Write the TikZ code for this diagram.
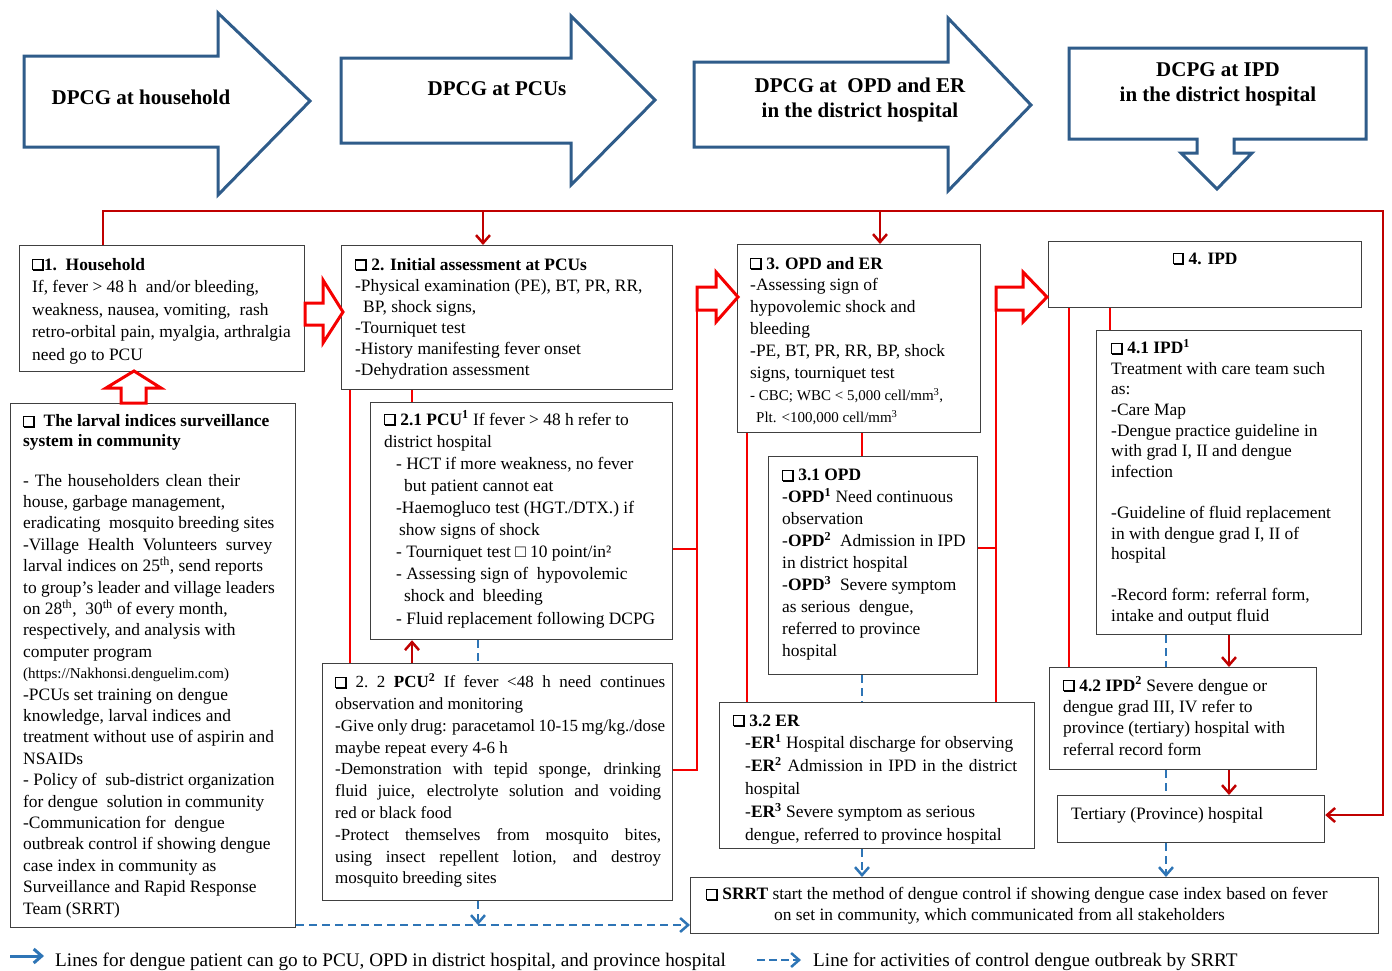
\documentclass[tikz,border=0pt]{standalone}
\usepackage{fontspec}
\setmainfont{Liberation Serif}
\usetikzlibrary{arrows.meta}
\definecolor{bluearr}{HTML}{2F5C8A}
\definecolor{bdash}{HTML}{2E75B6}
\definecolor{rbright}{HTML}{F50000}
\definecolor{rdark}{HTML}{C00000}
\definecolor{boxc}{HTML}{404040}
\newcommand{\cbx}{\mbox{\rule{1.1pt}{11pt}\rlap{\raisebox{9.9pt}{\rule{8.6pt}{1.1pt}}}\rule[-1pt]{8.6pt}{2.1pt}\rule[-1pt]{2.1pt}{12pt}}}
\newcommand{\jst}[2]{\makebox[#1pt][s]{#2}}
\begin{document}
\begin{tikzpicture}[x=1pt,y=-1pt,
  bx/.style={draw=boxc,line width=1.2pt,anchor=north west,inner sep=0pt,fill=white},
  tx/.style={anchor=north west,inner sep=0pt,align=left,font={\fontsize{17.4}{#1}\selectfont}},
  ttl/.style={align=center,inner sep=0pt,font={\fontsize{21}{25}\selectfont\bfseries}},
  bigarrow/.style={draw=bluearr,line width=3pt,line join=miter,fill=white},
  hollow/.style={draw=rbright,line width=3pt,line join=miter,fill=white},
  rline/.style={draw=rbright,line width=2.5pt},
  rtop/.style={draw=rdark,line width=2.5pt},
  rarrow/.style={draw=rdark,line width=2.5pt,-{Straight Barb[length=8pt,width=14pt]}},
  bdashed/.style={draw=bdash,line width=2.5pt,dash pattern=on 8pt off 5pt},
  barrow/.style={bdashed,-{Straight Barb[length=8pt,width=14pt]}},
]
\fill[white] (0,0) rectangle (1392,970);
\useasboundingbox (0,0) rectangle (1392,970);

% ---------- top block arrows ----------
\draw[bigarrow] (24,56) -- (218,56) -- (218,13) -- (310,101) -- (218,195) -- (218,147) -- (24,147) -- cycle;
\draw[bigarrow] (341,58) -- (571,58) -- (571,16) -- (655,100) -- (571,185) -- (571,143) -- (341,143) -- cycle;
\draw[bigarrow] (694,62) -- (948,62) -- (948,18) -- (1031,105) -- (948,191) -- (948,147) -- (694,147) -- cycle;
\draw[bigarrow] (1069,48) -- (1366,48) -- (1366,139) -- (1234,139) -- (1234,153) -- (1252,153) -- (1217,189) -- (1181,153) -- (1197,153) -- (1197,139) -- (1069,139) -- cycle;
\node[ttl] (a1t) at (141,97) {DPCG at household};
\node[ttl] (a2t) at (497,89) {DPCG at PCUs};
\node[ttl] (a3t) at (860,100) {DPCG at\ \ OPD and ER\\in the district hospital};
\node[ttl] (a4t) at (1218,84) {DCPG at IPD\\in the district hospital};

% ---------- boxes ----------
\node[bx,minimum width=285pt,minimum height=126pt] (hh) at (19,245) {};
\node[bx,minimum width=331pt,minimum height=144pt] (pcu) at (341,245) {};
\node[bx,minimum width=243pt,minimum height=188pt] (opd) at (737,244) {};
\node[bx,minimum width=313pt,minimum height=66pt] (ipd) at (1048,241) {};
\node[bx,minimum width=265pt,minimum height=304pt] (ipd1) at (1096,330) {};
\node[bx,minimum width=267pt,minimum height=102pt] (ipd2) at (1049,667) {};
\node[bx,minimum width=267pt,minimum height=47pt] (ter) at (1057,795) {};
\node[bx,minimum width=209pt,minimum height=218pt] (opd1) at (768,456) {};
\node[bx,minimum width=315pt,minimum height=146pt] (er) at (719,702) {};
\node[bx,minimum width=302pt,minimum height=237pt] (p21) at (370,402) {};
\node[bx,minimum width=350pt,minimum height=237pt] (p22) at (322,663) {};
\node[bx,minimum width=285pt,minimum height=524pt] (lar) at (10,403) {};
\node[bx,minimum width=688pt,minimum height=56pt] (srrt) at (690,877) {};

% ---------- texts ----------
\node[tx=22.6] (hht) at (32,254) {\strut\textbf{\cbx1.\ \ Household}\\
If, fever > 48 h\ \ and/or bleeding,\\
weakness, nausea, vomiting,\ \ rash\\
retro-orbital pain, myalgia, arthralgia\\
need go to PCU};

\node[tx=21] (pcut) at (355,255.5) {\strut\textbf{\cbx\ 2. Initial assessment at PCUs}\\
-Physical examination (PE), BT, PR, RR,\\
\hspace*{8pt}BP, shock signs,\\
-Tourniquet test\\
-History manifesting fever onset\\
-Dehydration assessment};

\node[tx=21.9] (opdt) at (750,253.5) {\strut\textbf{\cbx\ 3. OPD and ER}\\
-Assessing sign of\\
hypovolemic shock and\\
bleeding\\
-PE, BT, PR, RR, BP, shock\\
signs, tourniquet test\\
{\fontsize{15}{21.6}\selectfont - CBC; WBC < 5,000 cell/mm\textsuperscript{3},}\\
{\fontsize{15}{21.6}\selectfont\hspace*{6pt}Plt. <100,000 cell/mm\textsuperscript{3}}};

\node[font={\fontsize{17.4}{20}\selectfont\bfseries}] (ipdt) at (1205,259) {\cbx\ 4. IPD};

\node[tx=20.6] (ipd1t) at (1111,339) {\strut\textbf{\cbx\ 4.1 IPD\textsuperscript{1}}\\
Treatment with care team such\\
as:\\
-Care Map\\
-Dengue practice guideline in\\
with grad I, II and dengue\\
infection\\
\mbox{}\\
-Guideline of fluid replacement\\
in with dengue grad I, II of\\
hospital\\
\mbox{}\\
-Record form: referral form,\\
intake and output fluid};

\node[tx=21.3] (ipd2t) at (1063,676) {\strut\textbf{\cbx\ 4.2 IPD\textsuperscript{2}} Severe dengue or\\
dengue grad III, IV refer to\\
province (tertiary) hospital with\\
referral record form};

\node[anchor=base west,inner sep=0pt,font={\fontsize{17.4}{20}\selectfont}] (tert) at (1071,819) {Tertiary (Province) hospital};

\node[tx=22] (opd1t) at (782,465) {\strut\textbf{\cbx\ 3.1 OPD}\\
-\textbf{OPD\textsuperscript{1}} Need continuous\\
observation\\
-\textbf{OPD\textsuperscript{2}}\ \ Admission in IPD\\
in district hospital\\
-\textbf{OPD\textsuperscript{3}}\ \ Severe symptom\\
as serious\ \ dengue,\\
referred to province\\
hospital};

\node[tx=22.8] (ert) at (733,710) {\strut\textbf{\cbx\ 3.2 ER}\\
\hspace*{12pt}-\textbf{ER\textsuperscript{1}} Hospital discharge for observing\\
\hspace*{12pt}\jst{272}{-\textbf{ER\textsuperscript{2}} Admission in IPD in the district}\\
\hspace*{12pt}hospital\\
\hspace*{12pt}-\textbf{ER\textsuperscript{3}} Severe symptom as serious\\
\hspace*{12pt}dengue, referred to province hospital};

\node[tx=22.1] (p21t) at (384,409.5) {\strut\textbf{\cbx\ 2.1 PCU\textsuperscript{1}} If fever > 48 h refer to\\
district hospital\\
\hspace*{12pt}- HCT if more weakness, no fever\\
\hspace*{20pt}but patient cannot eat\\
\hspace*{12pt}-Haemogluco test (HGT./DTX.) if\\
\hspace*{15pt}show signs of shock\\
\hspace*{12pt}- Tourniquet test □ 10 point/in²\\
\hspace*{12pt}- Assessing sign of\ \ hypovolemic\\
\hspace*{20pt}shock and\ \ bleeding\\
\hspace*{12pt}- Fluid replacement following DCPG};

\node[tx=21.8,font={\fontsize{17}{21.8}\selectfont}] (p22t) at (335,672.3) {\strut\jst{330}{\textbf{\cbx} 2.\ 2 \textbf{PCU\textsuperscript{2}} If fever <48 h need continues}\\
observation and monitoring\\
\jst{330}{-Give only drug: paracetamol 10-15 mg/kg./dose}\\
maybe repeat every 4-6 h\\
\jst{326}{-Demonstration with tepid sponge, drinking}\\
\jst{326}{fluid juice, electrolyte solution and voiding}\\
red or black food\\
\jst{326}{-Protect themselves from mosquito bites,}\\
\jst{326}{using insect repellent lotion, and destroy}\\
mosquito breeding sites};

\node[tx=20] (lartt) at (23,412.5) {\strut\textbf{\cbx\ \ The larval indices surveillance}\\
\textbf{system in community}};

\node[tx=21.4] (lart) at (23,471) {\strut\jst{217}{- The householders clean their}\\
house, garbage management,\\
eradicating\ \ mosquito breeding sites\\
\jst{249}{-Village Health Volunteers survey}\\
larval indices on 25\textsuperscript{th}, send reports\\
to group's leader and village leaders\\
on 28\textsuperscript{th},\ \ 30\textsuperscript{th} of every month,\\
respectively, and analysis with\\
computer program\\
{\fontsize{15}{21.4}\selectfont(https://Nakhonsi.denguelim.com)}\\
-PCUs set training on dengue\\
knowledge, larval indices and\\
treatment without use of aspirin and\\
NSAIDs\\
- Policy of\ \ sub-district organization\\
for dengue\ \ solution in community\\
-Communication for\ \ dengue\\
outbreak control if showing dengue\\
case index in community as\\
Surveillance and Rapid Response\\
Team (SRRT)};

\node[tx=21] (srrtt) at (706,885) {\strut\textbf{\cbx\ SRRT} start the method of dengue control if showing dengue case index based on fever\\
\hspace*{68pt}on set in community, which communicated from all stakeholders};

% ---------- guide coordinates ----------
\coordinate (tl) at (103,211);
\coordinate (tr) at (1383,211);
\coordinate (t1) at (483,211);
\coordinate (t2) at (880,211);
\coordinate (v350) at (350,0);
\coordinate (v412) at (412,0);
\coordinate (v478) at (478,0);
\coordinate (v697) at (697,0);
\coordinate (v747) at (747,0);
\coordinate (v862) at (862,0);
\coordinate (v996) at (996,0);
\coordinate (v1069) at (1069,0);
\coordinate (v1110) at (1110,0);
\coordinate (v1166) at (1166,0);
\coordinate (v1229) at (1229,0);
\coordinate (h549) at (0,549);
\coordinate (h548) at (0,548);
\coordinate (h770) at (0,770);
\coordinate (h925) at (0,925);
\coordinate (h815) at (0,815);
\coordinate (hbl) at (697,310);
\coordinate (hbr) at (996,310);

% ---------- red connectors ----------
\draw[rtop,-{Straight Barb[length=8pt,width=14pt]}] (tl |- hh.north) -- (tl) -- (tr) |- (ter.east |- h815);
\draw[rarrow] (t1) -- (t1 |- pcu.north);
\draw[rarrow] (t2) -- (t2 |- opd.north);
\draw[rline] (v350 |- pcu.south) -- (v350 |- p22.north);
\draw[rline] (v412 |- pcu.south) -- (v412 |- p21.north);
\draw[rarrow] (v412 |- p22.north) -- (v412 |- p21.south);
\draw[rline] (p21.east |- h549) -- (v697 |- h549);
\draw[rline] (p22.east |- h770) -| (hbl);
\draw[rline] (v747 |- opd.south) -- (v747 |- er.north);
\draw[rline] (v862 |- opd.south) -- (v862 |- opd1.north);
\draw[rline] (opd1.east |- h548) -- (v996 |- h548);
\draw[rline] (hbr) -- (v996 |- er.north);
\draw[rline] (v1069 |- ipd.south) -- (v1069 |- ipd2.north);
\draw[rline] (v1110 |- ipd.south) -- (v1110 |- ipd1.north);
\draw[rarrow] (v1229 |- ipd1.south) -- (v1229 |- ipd2.north);
\draw[rarrow] (v1229 |- ipd2.south) -- (v1229 |- ter.north);

% ---------- hollow red arrows ----------
\draw[hollow] (305,303) -- (323,303) -- (323,280) -- (343,312) -- (323,343) -- (323,325) -- (305,325) -- cycle;
\draw[hollow] (697,287) -- (716,287) -- (716,272) -- (738,297) -- (716,322) -- (716,310) -- (697,310) -- cycle;
\draw[hollow] (996,287) -- (1023,287) -- (1023,272) -- (1047,297) -- (1023,322) -- (1023,310) -- (996,310) -- cycle;
\draw[hollow] (121,403) -- (121,388) -- (106,388) -- (134,371) -- (161,388) -- (146,388) -- (146,403) -- cycle;

% ---------- blue dashed connectors ----------
\draw[bdashed] (v478 |- p21.south) -- (v478 |- p22.north);
\draw[barrow] (v478 |- p22.south) -- (v478 |- h925);
\draw[barrow] (lar.east |- h925) -- (srrt.west |- h925);
\draw[bdashed] (v862 |- opd1.south) -- (v862 |- er.north);
\draw[barrow] (v862 |- er.south) -- (v862 |- srrt.north);
\draw[bdashed] (v1166 |- ipd1.south) -- (v1166 |- ipd2.north);
\draw[bdashed] (v1166 |- ipd2.south) -- (v1166 |- ter.north);
\draw[barrow] (v1166 |- ter.south) -- (v1166 |- srrt.north);

% ---------- legend ----------
\coordinate (l1a) at (10,956);
\coordinate (l1b) at (44,956);
\coordinate (l2a) at (757,960);
\coordinate (l2b) at (801,960);
\draw[draw=bdash,line width=3pt,-{Straight Barb[length=8pt,width=14pt]}] (l1a) -- (l1b);
\draw[draw=bdash,line width=2.5pt,dash pattern=on 8pt off 4pt,-{Straight Barb[length=8pt,width=14pt]}] (l2a) -- (l2b);
\node[anchor=base west,inner sep=0pt,font={\fontsize{19.2}{20}\selectfont}] (lg1) at (55,966) {Lines for dengue patient can go to PCU, OPD in district hospital, and province hospital};
\node[anchor=base west,inner sep=0pt,font={\fontsize{19.2}{20}\selectfont}] (lg2) at (813,966) {Line for activities of control dengue outbreak by SRRT};
\end{tikzpicture}
\end{document}
